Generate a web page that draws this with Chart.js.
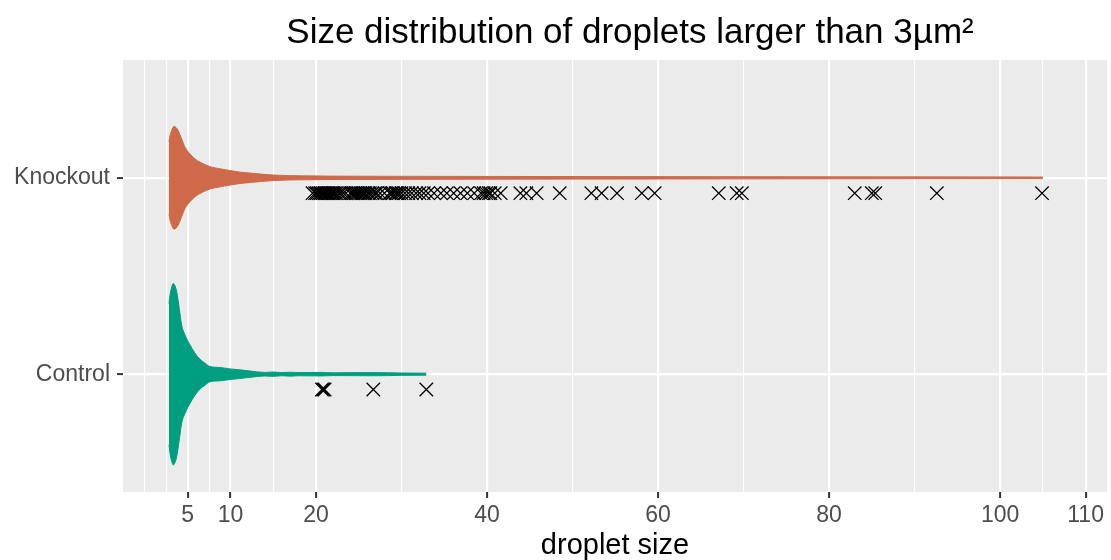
<!DOCTYPE html>
<html>
<head>
<meta charset="utf-8">
<script src="https://cdn.jsdelivr.net/npm/chart.js"></script>
<style>
  html, body { margin: 0; padding: 0; background: #fff; }
</style>
</head>
<body>
<canvas id="chartDroplets" width="1111" height="560"></canvas>
<script>
const categories = ['Control', 'Knockout'];

// violin outlines: droplet size and half-width (in category units)
const knockoutSize = [2.81, 2.92, 3.10, 3.27, 3.39, 3.63, 3.89, 4.29, 4.68, 5.26, 5.85, 6.43, 7.60, 8.77, 9.94, 11.1, 12.3, 15.0, 18.5, 25, 40, 60, 80, 105];
const knockoutWidth = [0.183, 0.213, 0.239, 0.256, 0.262, 0.256, 0.240, 0.198, 0.156, 0.122, 0.096, 0.080, 0.057, 0.046, 0.037, 0.029, 0.024, 0.014, 0.010, 0.008, 0.007, 0.006, 0.005, 0.004];

const controlSize = [2.81, 2.92, 3.10, 3.31, 3.51, 3.71, 4.01, 4.29, 4.68, 5.26, 5.85, 6.43, 7.02, 7.60, 8.77, 9.94, 11.1, 12.3, 14.0, 15.0, 16.0, 17.0, 18.0, 20.6, 22.0, 26.7, 30.0, 32.9];
const controlWidth = [0.360, 0.400, 0.440, 0.462, 0.450, 0.420, 0.335, 0.250, 0.200, 0.149, 0.107, 0.076, 0.056, 0.039, 0.034, 0.027, 0.022, 0.016, 0.009, 0.011, 0.008, 0.010, 0.008, 0.009, 0.007, 0.008, 0.006, 0.005];

// droplets above 20 shown individually
const knockoutLarge = [19.6, 19.9, 20.1, 20.3, 20.5, 20.6, 20.8, 21.0, 21.1, 21.3, 21.5, 21.7, 21.9, 22.0, 22.2, 22.4, 22.7, 22.9, 23.2, 23.5,
  24.0, 24.2, 24.4, 24.6, 24.8, 25.0, 25.2, 25.4, 25.6, 25.8, 26.1, 26.3, 26.6, 26.9, 27.1, 27.5, 28.0,
  28.6, 28.8, 29.0, 29.3, 29.5, 29.7, 30.0, 30.4, 30.8, 31.2, 31.7, 32.1, 32.6, 33.1, 33.8, 34.6, 35.3, 36.1, 36.9, 37.7, 38.5,
  39.3, 39.6, 39.9, 40.2, 40.4, 40.9, 41.6, 43.9, 44.6, 45.8, 48.5, 52.2, 53.4, 55.2, 58.1, 59.6, 67.1, 69.2, 69.8,
  83.0, 85.0, 85.4, 92.6, 104.9];
const controlLarge = [20.7, 20.85, 21.0, 26.7, 32.9];

const majorTicks = [5, 10, 20, 40, 60, 80, 100, 110];
const minorTicks = [0, 2.5, 7.5, 15, 30, 50, 70, 90, 105];

const knockoutColor = '#CE6A4A';
const controlColor = '#009E80';
const fontFamily = '"Liberation Sans", Arial, sans-serif';

function violinEdge(sizes, widths, center, sign) {
  return sizes.map((s, i) => ({ x: s, y: center + sign * widths[i] }));
}

function violin(sizes, widths, center, color) {
  const style = {
    borderColor: color,
    backgroundColor: color,
    borderWidth: 1,
    pointRadius: 0,
    cubicInterpolationMode: 'monotone'
  };
  return [
    { ...style, data: violinEdge(sizes, widths, center, 1), fill: '+1' },
    { ...style, data: violinEdge(sizes, widths, center, -1), fill: false }
  ];
}

function crosses(values, center) {
  return {
    data: values.map(v => ({ x: v, y: center - 0.078 })),
    showLine: false,
    pointStyle: 'crossRot',
    pointRadius: 9.5,
    pointBorderWidth: 1.3,
    borderColor: '#000',
    backgroundColor: '#000'
  };
}

const titlePlugin = {
  id: 'plotTitle',
  afterDraw(chart) {
    const { ctx, chartArea } = chart;
    ctx.save();
    ctx.font = '35px ' + fontFamily;
    ctx.fillStyle = '#000';
    ctx.textAlign = 'center';
    ctx.textBaseline = 'alphabetic';
    ctx.fillText('Size distribution of droplets larger than 3µm²', (chartArea.left + chartArea.right) / 2 + 15, 43);
    ctx.restore();
  }
};

const panelPlugin = {
  id: 'panelBg',
  beforeDraw(chart) {
    const { ctx, chartArea } = chart;
    ctx.save();
    ctx.fillStyle = '#EBEBEB';
    ctx.fillRect(chartArea.left, chartArea.top, chartArea.right - chartArea.left, chartArea.bottom - chartArea.top);
    ctx.restore();
  }
};

const isMajor = v => majorTicks.includes(v);

new Chart(document.getElementById('chartDroplets'), {
  type: 'line',
  data: {
    datasets: [
      ...violin(knockoutSize, knockoutWidth, 2, knockoutColor),
      ...violin(controlSize, controlWidth, 1, controlColor),
      crosses(knockoutLarge, 2),
      crosses(controlLarge, 1)
    ]
  },
  options: {
    responsive: false,
    animation: false,
    events: [],
    layout: { autoPadding: false, padding: { top: 60, right: 4, left: 0, bottom: 0 } },
    plugins: {
      legend: { display: false },
      tooltip: { enabled: false }
    },
    scales: {
      x: {
        type: 'linear',
        min: -2.57,
        max: 112.5,
        afterBuildTicks: scale => {
          scale.ticks = [...minorTicks, ...majorTicks].sort((a, b) => a - b).map(v => ({ value: v }));
        },
        afterFit: scale => {
          scale.height = 68;
          scale.paddingLeft = 0;
          scale.paddingRight = 0;
        },
        border: { display: false },
        grid: {
          color: '#FFFFFF',
          lineWidth: c => isMajor(c.tick.value) ? 2.2 : 1.1,
          tickColor: c => isMajor(c.tick.value) ? '#333333' : 'rgba(0,0,0,0)',
          tickLength: 6,
          tickWidth: 2
        },
        ticks: {
          autoSkip: false,
          maxRotation: 0,
          padding: 4,
          color: '#4D4D4D',
          font: { family: fontFamily, size: 23 },
          callback: v => isMajor(v) ? String(v) : ''
        },
        title: {
          display: true,
          text: 'droplet size',
          color: '#000',
          padding: 0,
          font: { family: fontFamily, size: 29, lineHeight: 1 }
        }
      },
      y: {
        type: 'linear',
        min: 0.4,
        max: 2.6,
        afterBuildTicks: scale => {
          scale.ticks = [1, 2].map(v => ({ value: v }));
        },
        afterFit: scale => { scale.width = 123; },
        border: { display: false },
        grid: {
          color: '#FFFFFF',
          lineWidth: 2.2,
          tickColor: '#333333',
          tickLength: 6,
          tickWidth: 2
        },
        ticks: {
          padding: 7,
          color: '#4D4D4D',
          font: { family: fontFamily, size: 23 },
          callback: v => categories[v - 1]
        }
      }
    }
  },
  plugins: [panelPlugin, titlePlugin]
});
</script>
</body>
</html>
